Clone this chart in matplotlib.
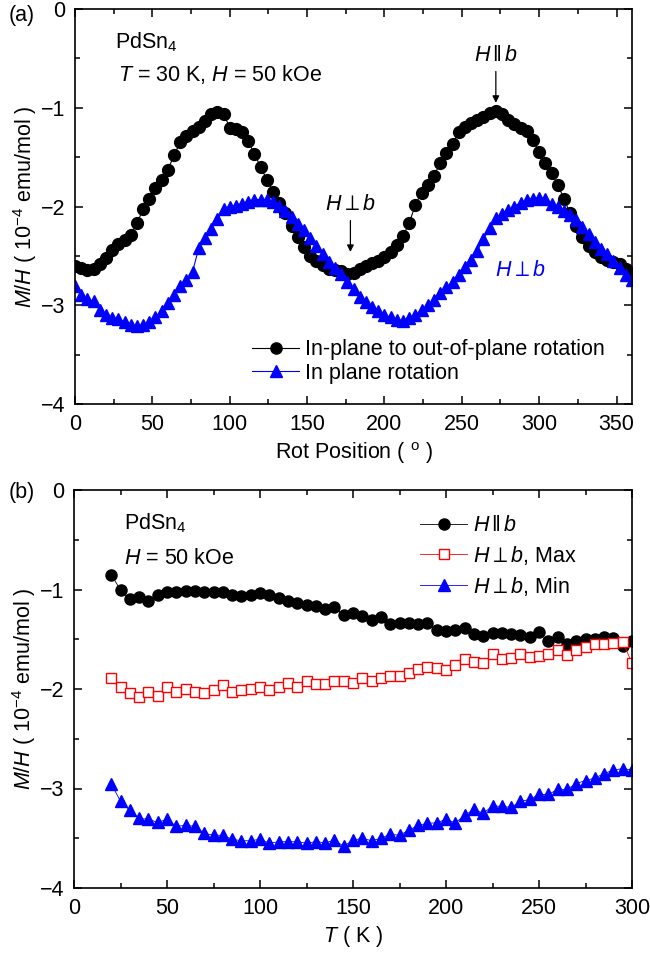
import matplotlib
matplotlib.use("Agg")
import matplotlib.pyplot as plt
from matplotlib.ticker import MultipleLocator

plt.rcParams['font.family'] = ['Liberation Sans', 'DejaVu Sans']
plt.rcParams['mathtext.fontset'] = 'custom'
plt.rcParams['mathtext.rm'] = 'Liberation Sans'
plt.rcParams['mathtext.it'] = 'Liberation Sans:italic'
plt.rcParams['mathtext.bf'] = 'Liberation Sans:bold'
plt.rcParams['font.size'] = 15.5

# (a) rotation at T = 30 K, H = 50 kOe
rot_angle = list(range(0, 361, 4))
m_out_of_plane = [-2.60, -2.62, -2.64, -2.63, -2.58, -2.52, -2.44, -2.38, -2.34, -2.29,
                  -2.17, -2.03, -1.92, -1.81, -1.73, -1.63, -1.48, -1.35, -1.29, -1.24,
                  -1.19, -1.13, -1.06, -1.04, -1.06, -1.20, -1.22, -1.25, -1.34, -1.47,
                  -1.60, -1.73, -1.85, -1.96, -2.07, -2.20, -2.31, -2.41, -2.50, -2.55,
                  -2.59, -2.63, -2.64, -2.65, -2.68, -2.67, -2.63, -2.60, -2.57, -2.55,
                  -2.51, -2.46, -2.39, -2.30, -2.17, -1.98, -1.86, -1.78, -1.69, -1.56,
                  -1.46, -1.37, -1.25, -1.19, -1.15, -1.12, -1.09, -1.05, -1.03, -1.06,
                  -1.12, -1.16, -1.20, -1.24, -1.33, -1.45, -1.56, -1.66, -1.78, -1.92,
                  -2.07, -2.20, -2.31, -2.40, -2.46, -2.51, -2.54, -2.56, -2.58, -2.63,
                  -2.67]
m_in_plane = [-2.80, -2.90, -2.94, -2.96, -3.05, -3.10, -3.13, -3.14, -3.17, -3.20,
              -3.21, -3.20, -3.17, -3.12, -3.06, -2.98, -2.90, -2.81, -2.74, -2.66,
              -2.42, -2.32, -2.23, -2.13, -2.03, -2.00, -1.99, -1.97, -1.95, -1.93,
              -1.93, -1.93, -1.95, -1.99, -2.05, -2.11, -2.18, -2.24, -2.32, -2.40,
              -2.48, -2.56, -2.62, -2.68, -2.76, -2.84, -2.92, -2.97, -3.02, -3.06,
              -3.10, -3.12, -3.15, -3.16, -3.13, -3.10, -3.05, -3.00, -2.95, -2.88,
              -2.82, -2.76, -2.69, -2.61, -2.54, -2.45, -2.33, -2.22, -2.12, -2.08,
              -2.04, -2.00, -1.96, -1.93, -1.92, -1.91, -1.92, -1.97, -2.01, -2.05,
              -2.09, -2.14, -2.21, -2.28, -2.36, -2.43, -2.48, -2.55, -2.62, -2.69,
              -2.74]

# (b) temperature dependence at H = 50 kOe
temp = list(range(20, 301, 5))
m_par = [-0.85, -1.005, -1.10, -1.08, -1.12, -1.055, -1.03, -1.03, -1.015, -1.015,
         -1.03, -1.03, -1.03, -1.055, -1.07, -1.055, -1.04, -1.055, -1.09, -1.12,
         -1.14, -1.155, -1.17, -1.20, -1.18, -1.255, -1.24, -1.27, -1.31, -1.28,
         -1.35, -1.335, -1.335, -1.35, -1.34, -1.41, -1.42, -1.41, -1.39, -1.45,
         -1.465, -1.44, -1.44, -1.45, -1.455, -1.48, -1.43, -1.52, -1.48, -1.55,
         -1.52, -1.50, -1.50, -1.48, -1.49, -1.57, -1.52]
m_perp_max = [-1.885, -1.975, -2.04, -2.08, -2.03, -2.07, -1.975, -2.03, -1.995, -2.03,
              -2.04, -2.01, -1.96, -2.03, -2.01, -1.995, -1.975, -2.01, -1.975, -1.94,
              -1.975, -1.92, -1.95, -1.95, -1.92, -1.92, -1.94, -1.89, -1.92, -1.89,
              -1.87, -1.87, -1.835, -1.80, -1.775, -1.785, -1.81, -1.76, -1.70, -1.725,
              -1.74, -1.65, -1.70, -1.69, -1.645, -1.675, -1.67, -1.645, -1.605, -1.655,
              -1.61, -1.58, -1.55, -1.55, -1.535, -1.525, -1.74]
m_perp_min = [-2.95, -3.13, -3.22, -3.30, -3.31, -3.34, -3.31, -3.38, -3.37, -3.38,
              -3.45, -3.47, -3.47, -3.51, -3.525, -3.525, -3.51, -3.55, -3.535, -3.535,
              -3.535, -3.55, -3.535, -3.545, -3.52, -3.58, -3.52, -3.50, -3.525, -3.50,
              -3.46, -3.47, -3.42, -3.37, -3.35, -3.345, -3.31, -3.345, -3.27, -3.21,
              -3.25, -3.175, -3.18, -3.19, -3.13, -3.11, -3.06, -3.06, -3.01, -3.01,
              -2.95, -2.92, -2.895, -2.85, -2.815, -2.80, -2.815]

ylab = r'$M/H$ ( 10$^{-4}$ emu/mol )'


def style_axes(ax, xmaj, xmin):
    ax.xaxis.set_major_locator(MultipleLocator(xmaj))
    ax.xaxis.set_minor_locator(MultipleLocator(xmin))
    ax.yaxis.set_major_locator(MultipleLocator(1))
    ax.yaxis.set_minor_locator(MultipleLocator(0.5))
    ax.tick_params(which='both', direction='in', top=True, right=True, width=1.1)
    ax.tick_params(which='major', length=6, pad=7)
    ax.tick_params(which='minor', length=3.5)
    for s in ax.spines.values():
        s.set_linewidth(1.2)


fig = plt.figure(figsize=(6.5, 9.64), dpi=100)
# top edge kept a few px below the figure edge so the "0" label is not clipped
ax1 = fig.add_axes([75 / 650, 1 - 404 / 964, 557 / 650, 395 / 964])
ax2 = fig.add_axes([74 / 650, 1 - 888 / 964, 558 / 650, 398 / 964])

ax1.plot(rot_angle, m_out_of_plane, '-o', color='black', lw=0.8, ms=8.5,
         label='In-plane to out-of-plane rotation')
ax1.plot(rot_angle, m_in_plane, '-^', color='#0000ff', lw=0.8, ms=9,
         label='In plane rotation')
ax1.set_xlim(0, 360)
ax1.set_ylim(-4, 0)
style_axes(ax1, 50, 25)
ax1.set_xlabel(r'Rot Position ( $^{\rm o}$ )', labelpad=4)
ax1.set_ylabel(ylab, labelpad=1)
ax1.legend(loc='upper left', bbox_to_anchor=(0.318, 0.164), frameon=False, borderpad=0,
           handlelength=2.2, handletextpad=0.25, labelspacing=0.12, borderaxespad=0,
           markerscale=0.95)
ax1.text(26, -0.34, r'PdSn$_4$', va='center', ha='left')
ax1.text(28, -0.66, r'$T$ = 30 K, $H$ = 50 kOe', va='center', ha='left')
ax1.annotate(r'$H\,\Vert\,b$', xy=(272, -0.95), xytext=(272, -0.47), ha='center', va='center',
             arrowprops=dict(arrowstyle='-|>', color='black', lw=0.9, shrinkA=2, shrinkB=0,
                             mutation_scale=10))
ax1.annotate(r'$H\perp b$', xy=(178, -2.46), xytext=(178, -1.98), ha='center', va='center',
             arrowprops=dict(arrowstyle='-|>', color='black', lw=0.9, shrinkA=2, shrinkB=0,
                             mutation_scale=10))
ax1.text(288, -2.65, r'$H\perp b$', color='#0000ff', ha='center', va='center')

ax2.plot(temp, m_par, '-o', color='black', lw=0.6, ms=8, label=r'$H\,\Vert\,b$')
ax2.plot(temp, m_perp_max, '-s', color='#ff0000', lw=0.6, ms=7, mfc='white', mew=1.0,
         label=r'$H\perp b$, Max')
ax2.plot(temp, m_perp_min, '-^', color='#0000ff', lw=0.6, ms=9, label=r'$H\perp b$, Min')
ax2.set_xlim(0, 300)
ax2.set_ylim(-4, 0)
style_axes(ax2, 50, 25)
ax2.set_xlabel(r'$T$ ( K )', labelpad=4)
ax2.set_ylabel(ylab, labelpad=1)
ax2.legend(loc='upper left', bbox_to_anchor=(0.62, 0.937), frameon=False, borderpad=0,
           handlelength=2.2, handletextpad=0.25, labelspacing=0.36, borderaxespad=0)
ax2.text(27, -0.33, r'PdSn$_4$', va='center', ha='left')
ax2.text(27, -0.69, r'$H$ = 50 kOe', va='center', ha='left')

fig.text(22 / 650, 1 - 15 / 964, '(a)', ha='center', va='center')
fig.text(22 / 650, 1 - 493 / 964, '(b)', ha='center', va='center')

fig.savefig('out.png', dpi=100)
